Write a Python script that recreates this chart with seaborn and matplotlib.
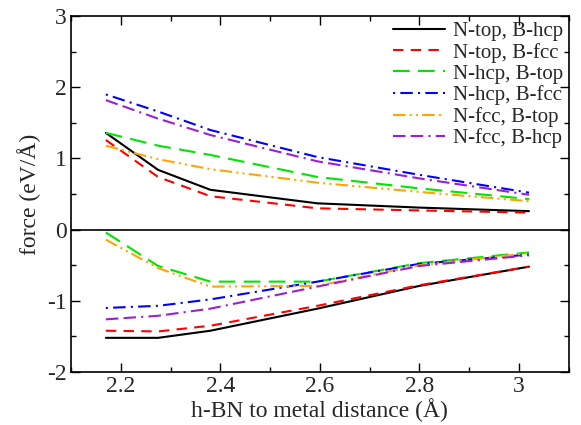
import matplotlib
matplotlib.use("Agg")
import matplotlib.pyplot as plt
import seaborn as sns
import pandas as pd
from matplotlib.ticker import MultipleLocator

sns.set_theme(style="ticks")
plt.rcParams['font.family'] = ['Liberation Serif', 'DejaVu Serif']
plt.rcParams['mathtext.fontset'] = 'stix'

distance = [2.17, 2.275, 2.38, 2.595, 2.80, 3.02]
configs = ["N-top, B-hcp", "N-top, B-fcc", "N-hcp, B-top",
           "N-hcp, B-fcc", "N-fcc, B-top", "N-fcc, B-hcp"]

upper = {
    "N-top, B-hcp": [1.36, 0.84, 0.56, 0.37, 0.31, 0.26],
    "N-top, B-fcc": [1.26, 0.74, 0.47, 0.30, 0.27, 0.24],
    "N-hcp, B-top": [1.36, 1.18, 1.05, 0.74, 0.58, 0.43],
    "N-hcp, B-fcc": [1.90, 1.66, 1.40, 1.02, 0.77, 0.52],
    "N-fcc, B-top": [1.18, 0.99, 0.85, 0.66, 0.53, 0.40],
    "N-fcc, B-hcp": [1.82, 1.56, 1.33, 0.96, 0.72, 0.49],
}
lower = {
    "N-top, B-hcp": [-1.52, -1.52, -1.42, -1.11, -0.79, -0.52],
    "N-top, B-fcc": [-1.42, -1.43, -1.35, -1.07, -0.78, -0.52],
    "N-hcp, B-top": [-0.04, -0.51, -0.73, -0.73, -0.47, -0.32],
    "N-hcp, B-fcc": [-1.10, -1.07, -0.98, -0.73, -0.48, -0.35],
    "N-fcc, B-top": [-0.14, -0.54, -0.80, -0.79, -0.50, -0.33],
    "N-fcc, B-hcp": [-1.26, -1.21, -1.11, -0.80, -0.51, -0.36],
}

colors = ["#000000", "#ff0000", "#00e600", "#0000ff", "#ffa500", "#9a1fd6"]
dash_list = ["", (5, 3.5), (8, 4), (1, 2.5, 6, 2.5), (6, 2, 1, 2, 1, 2), (6, 2.5, 6, 2.5, 1, 2.5)]
palette = dict(zip(configs, colors))
dashes = dict(zip(configs, dash_list))

rows = []
for c in configs:
    for branch, src in (("upper", upper), ("lower", lower)):
        for x, y in zip(distance, src[c]):
            rows.append({"distance": x, "force": y, "config": c, "branch": branch})
df = pd.DataFrame(rows)

fig = plt.figure(figsize=(5.81, 4.25), dpi=100)
ax = fig.add_axes([0.1222, 0.1247, 0.979 - 0.1222, 0.962 - 0.1247])

sns.lineplot(data=df, x="distance", y="force", hue="config", style="config",
             units="branch", estimator=None, palette=palette, dashes=dashes,
             hue_order=configs, style_order=configs, linewidth=1.5, ax=ax,
             legend=True, sort=True)

ax.axhline(0, color="black", linewidth=1.2, zorder=0)
ax.set_xlim(2.1, 3.1)
ax.set_ylim(-2, 3)
ax.xaxis.set_minor_locator(MultipleLocator(0.1))
ax.yaxis.set_minor_locator(MultipleLocator(0.5))
ax.set_xticks([2.2, 2.4, 2.6, 2.8, 3.0])
ax.set_xticklabels(["2.2", "2.4", "2.6", "2.8", "3"])
ax.set_yticks([-2, -1, 0, 1, 2, 3])
ax.set_yticklabels(["-2", "-1", "0", "1", "2", "3"])
ax.tick_params(which="both", direction="in", top=True, right=True, labelsize=17,
               color="black", width=1)
ax.tick_params(which="major", length=6.5, pad=3)
ax.tick_params(which="minor", length=3.8)
for s in ax.spines.values():
    s.set_linewidth(1.2)
    s.set_color("black")

ax.set_xlabel("h-BN to metal distance (Å)", fontsize=17, labelpad=1)
ax.set_ylabel("force (eV/Å)", fontsize=17, labelpad=4)

handles, labels = ax.get_legend_handles_labels()
ax.legend(handles=handles, labels=labels, loc="upper right", frameon=False,
          fontsize=15, handlelength=2.5, handletextpad=0.4, labelspacing=0.08,
          borderaxespad=0.0, borderpad=0.25, bbox_to_anchor=(1.0, 1.0))

fig.savefig("out.png", dpi=100)
